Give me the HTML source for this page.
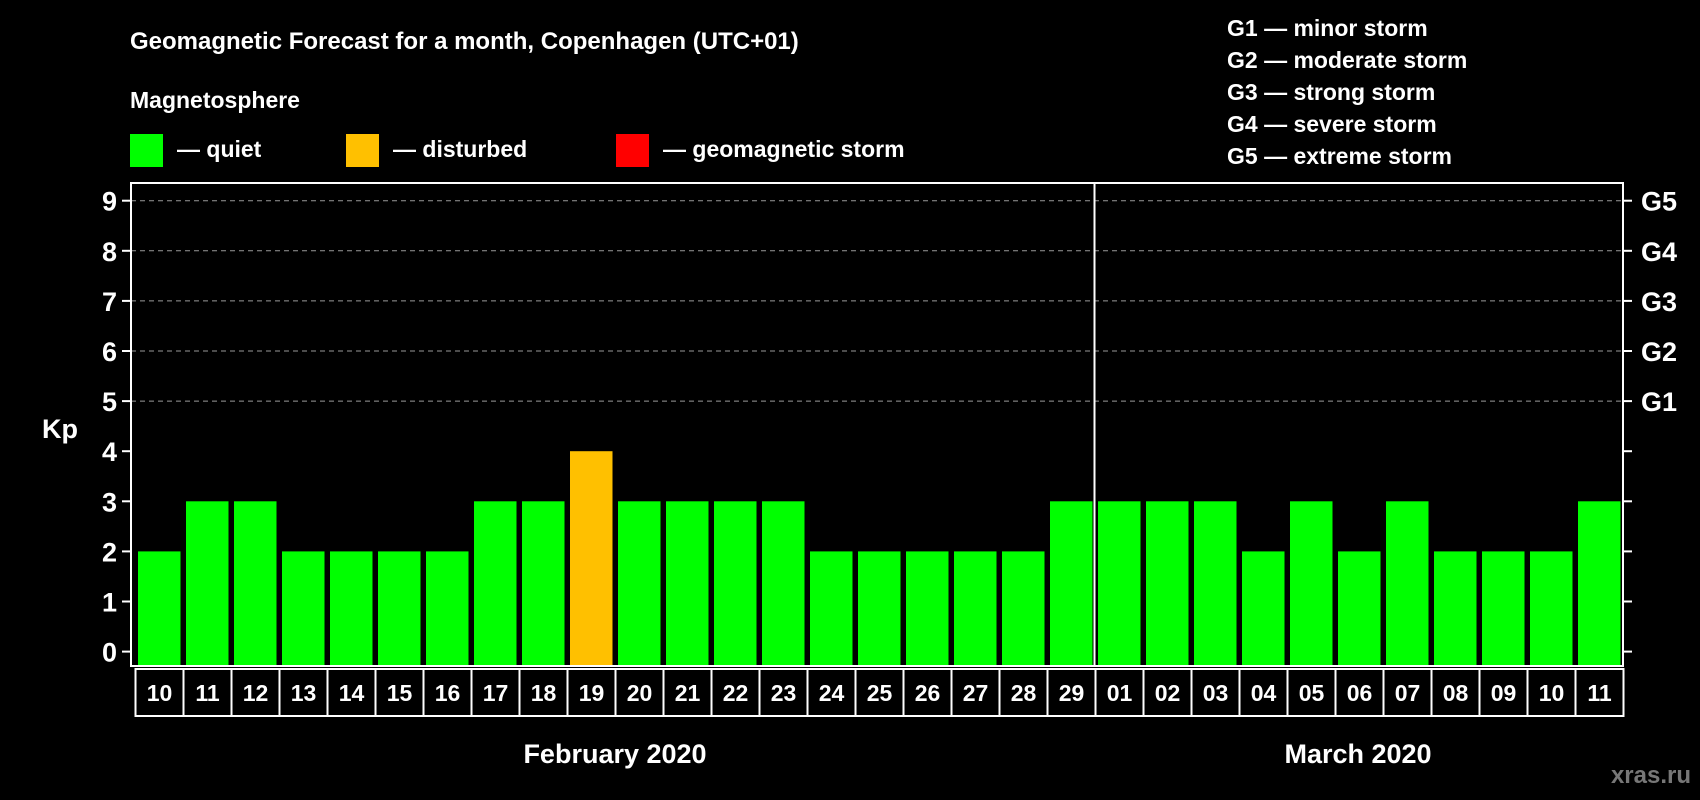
<!DOCTYPE html>
<html><head><meta charset="utf-8"><style>
html,body{margin:0;padding:0;background:#000;}
svg{display:block;font-family:"Liberation Sans",Arial,sans-serif;font-weight:bold;}
</style></head><body>
<svg id="chart" width="1700" height="800" viewBox="0 0 1700 800">
<rect x="0" y="0" width="1700" height="800" fill="#000"/>
<text x="130" y="49" fill="#fff" font-size="24">Geomagnetic Forecast for a month, Copenhagen (UTC+01)</text>
<text x="130" y="108" fill="#fff" font-size="23">Magnetosphere</text>
<rect x="130" y="134" width="33" height="33" fill="#00ff00"/>
<text x="177" y="157" fill="#fff" font-size="23">— quiet</text>
<rect x="346" y="134" width="33" height="33" fill="#ffc000"/>
<text x="393" y="157" fill="#fff" font-size="23">— disturbed</text>
<rect x="616" y="134" width="33" height="33" fill="#ff0000"/>
<text x="663" y="157" fill="#fff" font-size="23">— geomagnetic storm</text>
<g font-size="23" fill="#fff">
<text x="1227" y="36">G1 — minor storm</text>
<text x="1227" y="68">G2 — moderate storm</text>
<text x="1227" y="100">G3 — strong storm</text>
<text x="1227" y="132">G4 — severe storm</text>
<text x="1227" y="164">G5 — extreme storm</text>
</g>
<text x="42" y="438" fill="#fff" font-size="27">Kp</text>
<text x="615" y="763" fill="#fff" font-size="27" text-anchor="middle">February 2020</text>
<text x="1358" y="763" fill="#fff" font-size="27" text-anchor="middle">March 2020</text>
<text x="1691" y="783" fill="#777" font-size="24" text-anchor="end">xras.ru</text>
<g id="plot"></g>
</svg>
<script>
const days = ["10","11","12","13","14","15","16","17","18","19","20","21","22","23","24","25","26","27","28","29","01","02","03","04","05","06","07","08","09","10","11"];
const kpValues = [2,3,3,2,2,2,2,3,3,4,3,3,3,3,2,2,2,2,2,3,3,3,3,2,3,2,3,2,2,2,3];
const yTicks = [0,1,2,3,4,5,6,7,8,9];
const gLabels = ["G1","G2","G3","G4","G5"];
const gLevels = [5,6,7,8,9];
const marchStartIndex = 20;

const NS="http://www.w3.org/2000/svg";
const g=document.getElementById('plot');
const L=131,R=1623,T=183,B=666,Y0=651.6,UNIT=50.1;
const slotStart=135.5, slot=48;
const yS=v=>Y0-v*UNIT;
const xS=i=>slotStart+i*slot;
function mk(tag,a){const e=document.createElementNS(NS,tag);for(const k in a)e.setAttribute(k,a[k]);g.appendChild(e);return e;}
function color(v){return v>=5?"#ff0000":(v>=4?"#ffc000":"#00ff00");}

yTicks.forEach(v=>{
  const y=yS(v);
  if(v>=5){const l=mk('line',{x1:L,x2:R,y1:y,y2:y,stroke:"#999","stroke-width":1,"stroke-dasharray":"5,4"});
  
  }
  const t1=mk('line',{x1:L-9,x2:L,y1:y,y2:y,stroke:"#fff","stroke-width":2});
  
  
  const t2=mk('line',{x1:R,x2:R+9,y1:y,y2:y,stroke:"#fff","stroke-width":2});
  
  
  const tx=mk('text',{x:L-14,y:y+10,fill:"#fff","font-size":27,"text-anchor":"end"});
  tx.textContent=v;
  
  
});
gLabels.forEach((lab,i)=>{
  const tx=mk('text',{x:R+18,y:yS(gLevels[i])+10,fill:"#fff","font-size":27});
  tx.textContent=lab;
  
  
});
kpValues.forEach((v,i)=>{
  const r=mk('rect',{x:xS(i)+2.5,y:yS(v),width:slot-5.5,height:Y0+14-yS(v),fill:color(v)});
  
  
});
days.forEach((d,i)=>{
  const c=mk('rect',{x:xS(i),y:669,width:slot,height:47,fill:"none",stroke:"#fff","stroke-width":2});
  
  
  const t=mk('text',{x:xS(i)+slot/2,y:701,fill:"#fff","font-size":23,"text-anchor":"middle"});
  t.textContent=d;
  
  
});
const frame=mk('rect',{x:L,y:T,width:R-L,height:B-T,fill:"none",stroke:"#fff","stroke-width":2});


const dx=xS(marchStartIndex)-1;
const div=mk('line',{x1:dx,x2:dx,y1:T,y2:B,stroke:"#fff","stroke-width":2});


</script>
</body></html>
